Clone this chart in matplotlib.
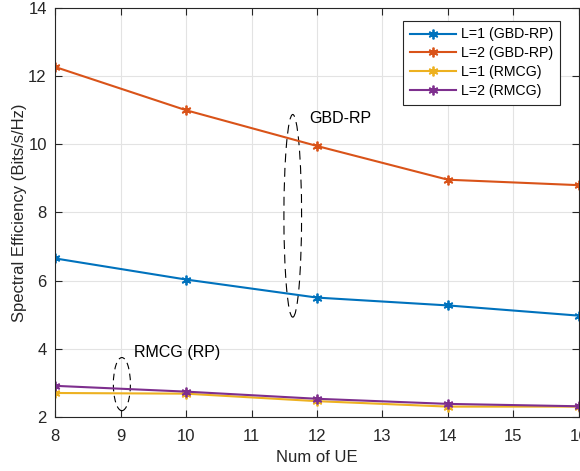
import matplotlib.pyplot as plt
from matplotlib.patches import Ellipse

plt.rcParams['font.family'] = ['Liberation Sans', 'DejaVu Sans']

num_ue = [8, 10, 12, 14, 16]
se_l1_gbd = [6.65, 6.03, 5.50, 5.27, 4.97]
se_l2_gbd = [12.27, 11.0, 9.95, 8.96, 8.80]
se_l1_rmcg = [2.70, 2.68, 2.46, 2.30, 2.30]
se_l2_rmcg = [2.91, 2.74, 2.53, 2.38, 2.31]

labels = ["L=1 (GBD-RP)", "L=2 (GBD-RP)", "L=1 (RMCG)", "L=2 (RMCG)"]
colors = ["#0072BD", "#D95319", "#EDB120", "#7E2F8E"]

fig = plt.figure(figsize=(5.8, 4.71), dpi=100)
ax = fig.add_axes([0.095, 0.115, 0.903, 0.868])

for ys, lab, c in zip([se_l1_gbd, se_l2_gbd, se_l1_rmcg, se_l2_rmcg], labels, colors):
    ax.plot(num_ue, ys, color=c, marker=(6, 2, 0), markersize=7, markeredgewidth=1.3,
            linewidth=1.5, label=lab)

# dashed ellipses marking the two groups
ax.add_patch(Ellipse((11.63, 7.9), 0.27, 5.95, fill=False, linestyle=(0, (8, 5)),
                     edgecolor='black', linewidth=0.8))
ax.add_patch(Ellipse((9.02, 2.96), 0.26, 1.56, fill=False, linestyle=(0, (6, 4)),
                     edgecolor='black', linewidth=0.8))
ax.text(11.88, 10.77, "GBD-RP", fontsize=11.5, va='center', ha='left')
ax.text(9.2, 3.88, "RMCG (RP)", fontsize=11.5, va='center', ha='left')

ax.set_xlim(8, 16)
ax.set_ylim(2, 14)
ax.set_xticks(range(8, 17))
ax.set_yticks(range(2, 15, 2))
ax.grid(True, color='#e3e3e3', linewidth=0.8)
ax.set_axisbelow(True)
ax.tick_params(direction='in', top=True, right=True, labelsize=12, length=5,
               colors='#262626')
ax.tick_params(axis='x', pad=9)
ax.tick_params(axis='y', pad=6)
for s in ax.spines.values():
    s.set_color('#262626')
ax.set_xlabel("Num of UE", fontsize=12, color='#262626', labelpad=4)
ax.set_ylabel("Spectral Efficiency (Bits/s/Hz)", fontsize=12, color='#262626', labelpad=1)

leg = ax.legend(loc='upper right', bbox_to_anchor=(0.964, 0.968), fontsize=10.2,
                fancybox=False, edgecolor='#262626', framealpha=1, handlelength=3.3,
                borderpad=0.45, labelspacing=0.35, handletextpad=0.35, borderaxespad=0)
leg.get_frame().set_linewidth(0.8)

fig.savefig("out.png", dpi=100)
